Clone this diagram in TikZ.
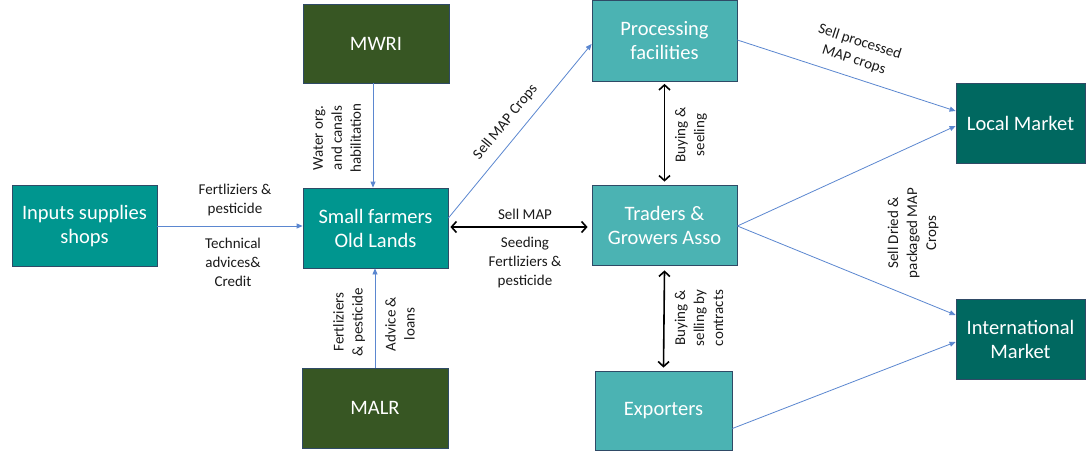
\documentclass[tikz,border=0pt]{standalone}
\usepackage{fontspec}
\setmainfont{Carlito}
\usetikzlibrary{arrows.meta,calc}
\definecolor{tealA}{RGB}{0,150,143}
\definecolor{tealB}{RGB}{75,179,179}
\definecolor{tealD}{RGB}{0,104,96}
\definecolor{greenD}{RGB}{55,86,35}
\definecolor{bordc}{RGB}{47,74,102}
\definecolor{linkc}{RGB}{91,135,208}
\definecolor{labc}{RGB}{26,26,26}
\begin{document}
\begin{tikzpicture}[x=1pt,y=-1pt,
  box/.style={draw=bordc, line width=0.8pt, text=white, font=\fontsize{20.5}{24}\selectfont, align=center, inner sep=0pt},
  lab/.style={font=\fontsize{15}{19}\selectfont, align=center, text=labc, inner sep=1pt},
  flow/.style={draw=linkc, line width=0.8pt, -{Triangle[length=6pt,width=5pt]}},
  both/.style={draw=black, line width=1.6pt, {Straight Barb[length=5pt,width=11pt]}-{Straight Barb[length=5pt,width=11pt]}}
]
\useasboundingbox (0,0) rectangle (1088,452);
\fill[white] (0,0) rectangle (1088,452);

% boxes
\node[box, fill=tealA, minimum width=145pt, minimum height=81pt] (inp) at (84.5,226) {Inputs supplies\\shops};
\node[box, fill=greenD, minimum width=146pt, minimum height=79pt] (mwri) at (376,43.5) {MWRI};
\node[box, fill=tealA, minimum width=145pt, minimum height=80pt] (sf) at (375.5,228) {Small farmers\\Old Lands};
\node[box, fill=greenD, minimum width=146pt, minimum height=80pt] (malr) at (375,408) {MALR};
\node[box, fill=tealB, minimum width=145pt, minimum height=81pt] (proc) at (664.5,41) {Processing\\facilities};
\node[box, fill=tealB, minimum width=145pt, minimum height=80pt] (trad) at (664.5,225) {Traders \&\\Growers Asso};
\node[box, fill=tealB, minimum width=137pt, minimum height=79pt] (exp) at (663.5,410.5) {Exporters};
\node[box, fill=tealD, minimum width=129pt, minimum height=80pt] (loc) at (1020.5,123) {Local Market};
\node[box, fill=tealD, minimum width=129pt, minimum height=80pt] (intl) at (1020.5,339) {International\\Market};

% blue flows
\draw[flow] (inp.east) -- (inp.east -| sf.west);
\draw[flow] ([xshift=-3pt]mwri.south) -- ([xshift=-3pt]mwri.south |- sf.north);
\draw[flow] (malr.north) -- (malr.north |- sf.south);
\draw[flow] ([yshift=10pt]sf.east) -- node[lab, sloped, above=9pt, pos=0.49] {Sell MAP Crops} ([yshift=-3pt]proc.west);
\draw[flow] ([yshift=1pt]proc.east) -- node[lab, sloped, above=9pt, pos=0.51] {Sell processed\\MAP crops} ([yshift=12pt]loc.west);
\draw[flow] ([yshift=-1pt]trad.east) -- ([yshift=-3pt]loc.west);
\draw[flow] ([yshift=-1pt]trad.east) -- ([yshift=24pt]intl.west);
\draw[flow] ([yshift=-18pt]exp.east) -- ([yshift=-3pt]intl.west);

% black double arrows
\draw[both] ([xshift=2pt,yshift=1pt]sf.east) -- ([xshift=-4pt,yshift=-2pt]trad.west);
\draw[both] ([yshift=-2pt]proc.south) -- ([yshift=3pt]trad.north);
\draw[both] ([yshift=-5pt]trad.south) -- ([yshift=3pt]exp.north);

% labels
\node[lab] (l1) at (235,200) {Fertliziers \&\\pesticide};
\node[lab] (l2) at (233,262) {Technical\\advices\&\\Credit};
\node[lab, rotate=90] (l3) at (337,138) {Water org.\\and canals\\habilitation};
\node[lab, rotate=90] (l4) at (349,322) {Fertliziers\\\& pesticide};
\node[lab, rotate=90] (l5) at (400,324) {Advice \&\\loans};
\node[lab] (l6) at (525,214) {Sell MAP};
\node[lab] (l7) at (525,262) {Seeding\\Fertliziers \&\\pesticide};
\node[lab, rotate=90] (l8) at (691,135) {Buying \&\\seeling};
\node[lab, rotate=90] (l9) at (699,318) {Buying \&\\selling by\\contracts};
\node[lab, rotate=90] (l10) at (913,233) {Sell Dried \&\\packaged MAP\\Crops};
\end{tikzpicture}
\end{document}
